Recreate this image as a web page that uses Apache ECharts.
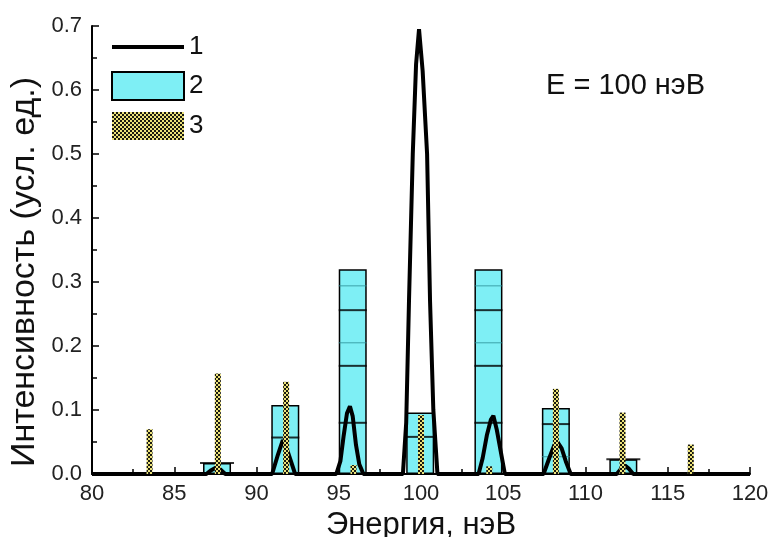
<!DOCTYPE html>
<html>
<head>
<meta charset="utf-8">
<script src="https://cdn.jsdelivr.net/npm/echarts@6/dist/echarts.min.js"></script>
<style>html,body{margin:0;padding:0;background:#fff;}#c{width:772px;height:537px;}</style>
</head>
<body>
<div id="c"></div>
<script>
// ---- data ----
var xTicks = [80, 85, 90, 95, 100, 105, 110, 115, 120];
var yTicks = [0, 0.1, 0.2, 0.3, 0.4, 0.5, 0.6, 0.7];

// series 1: line
var lineX = [80, 86.95, 87.25, 87.6, 87.85, 88.1,
  90.95, 91.3, 91.6, 91.9, 92.35,
  94.85, 95.1, 95.3, 95.5, 95.68, 95.85, 96.05, 96.25, 96.5,
  98.9, 99.1, 99.27, 99.5, 99.7, 99.88, 100.1, 100.37, 100.55, 100.75, 101.0,
  103.5, 103.75, 104.0, 104.25, 104.4, 104.6, 104.85, 105.1,
  107.45, 107.8, 108.1, 108.3, 108.55, 108.8, 109.1,
  111.9, 112.15, 112.4, 112.65, 112.9, 120];
var lineY = [0, 0, 0.006, 0.011, 0.006, 0,
  0, 0.03, 0.053, 0.035, 0,
  0, 0.02, 0.06, 0.095, 0.106, 0.09, 0.045, 0.015, 0,
  0, 0.08, 0.27, 0.5, 0.64, 0.695, 0.63, 0.5, 0.27, 0.1, 0,
  0, 0.025, 0.06, 0.085, 0.091, 0.07, 0.035, 0,
  0, 0.025, 0.045, 0.05, 0.04, 0.02, 0,
  0, 0.008, 0.013, 0.008, 0, 0];

// series 2: cyan bars
var cyanX = [87.6, 91.75, 95.85, 99.95, 104.1, 108.2, 112.3];
var cyanY = [0.017, 0.108, 0.32, 0.096, 0.32, 0.103, 0.023];
// inner level lines of the cyan bars
var darkLevels = [[91.75, 0.057], [95.85, 0.08], [95.85, 0.169], [95.85, 0.256],
  [99.95, 0.058], [104.1, 0.08], [104.1, 0.169], [104.1, 0.256], [108.2, 0.078]];
var lightLevels = [[95.85, 0.205], [95.85, 0.294], [104.1, 0.205], [104.1, 0.294], [108.2, 0.027]];
var capLevels = [[87.6, 0.017], [112.3, 0.023]];

// series 3: dotted bars
var dotX = [83.5, 87.65, 91.8, 95.9, 100.0, 104.15, 108.2, 112.25, 116.4];
var dotY = [0.070, 0.157, 0.144, 0.014, 0.092, 0.012, 0.133, 0.096, 0.046];

// ---- pattern ----
var pc = document.createElement('canvas');
pc.width = 4; pc.height = 4;
var g = pc.getContext('2d');
g.fillStyle = '#ece27a'; g.fillRect(0, 0, 4, 4);
g.fillStyle = '#1a1a10'; g.fillRect(0, 0, 2, 2); g.fillRect(2, 2, 2, 2);
var patt = {image: pc, repeat: 'repeat'};

function pairs(xs, ys) { return xs.map(function (x, i) { return [x, ys[i]]; }); }

var FONT = 'Liberation Sans, Arial, sans-serif';
var chart = echarts.init(document.getElementById('c'), null, {renderer: 'canvas'});
chart.setOption({
  animation: false,
  backgroundColor: '#fff',
  grid: {left: 92, right: 22, top: 26, bottom: 63, containLabel: false, outerBoundsMode: 'none'},
  legend: {
    orient: 'vertical', left: 105, top: 29, itemWidth: 72, itemHeight: 28, itemGap: 11,
    textStyle: {fontSize: 26, color: '#111', fontFamily: FONT},
    data: [
      {name: '1', itemStyle: {opacity: 0}, lineStyle: {width: 4, color: '#000'}},
      {name: '2', icon: 'rect'},
      {name: '3', icon: 'rect'}
    ]
  },
  xAxis: [{
    type: 'value', min: 80, max: 120, interval: 5,
    name: 'Энергия, нэВ', nameLocation: 'middle', nameGap: 27,
    nameTextStyle: {fontSize: 31, color: '#111', fontFamily: FONT},
    axisLine: {lineStyle: {color: '#000', width: 2}},
    axisTick: {inside: true, length: 7, lineStyle: {color: '#000', width: 1.5}},
    minorTick: {show: true, splitNumber: 2, length: 5, lineStyle: {color: '#000', width: 1.5}},
    axisLabel: {fontSize: 22, color: '#222', fontFamily: FONT, margin: 9,
      formatter: function (v) { return String(v); }},
    splitLine: {show: false}
  }, {
    type: 'value', min: 80, max: 120, show: false
  }],
  yAxis: {
    type: 'value', min: 0, max: 0.7, interval: 0.1,
    axisLine: {show: true, lineStyle: {color: '#000', width: 2}},
    axisTick: {show: true, inside: true, length: 7, lineStyle: {color: '#000', width: 1.5}},
    minorTick: {show: true, splitNumber: 2, length: 5, lineStyle: {color: '#000', width: 1.5}},
    axisLabel: {fontSize: 22, color: '#222', fontFamily: FONT, margin: 10,
      formatter: function (v) { return v.toFixed(1); }},
    splitLine: {show: false}
  },
  graphic: [
    {type: 'text', x: 25, y: 272, rotation: Math.PI / 2,
      style: {text: 'Интенсивность (усл. ед.)', fontSize: 34, fill: '#111', fontFamily: FONT,
        align: 'center', verticalAlign: 'middle'}},
    {type: 'text', x: 546, y: 86,
      style: {text: 'E = 100 нэВ', fontSize: 29, fill: '#111', fontFamily: FONT,
        align: 'left', verticalAlign: 'middle'}}
  ],
  series: [
    {
      name: '2', type: 'bar', xAxisIndex: 0, barWidth: 28, z: 2,
      itemStyle: {color: '#7eeff5', borderColor: '#000', borderWidth: 1.5},
      data: pairs(cyanX, cyanY)
    },
    {
      name: '2', type: 'scatter', xAxisIndex: 0, symbol: 'rect', symbolSize: [28, 2], z: 3,
      itemStyle: {color: '#000'}, silent: true, data: darkLevels
    },
    {
      name: '2', type: 'scatter', xAxisIndex: 0, symbol: 'rect', symbolSize: [28, 1], z: 3,
      itemStyle: {color: '#2b8f96'}, silent: true, data: lightLevels
    },
    {
      name: '2', type: 'scatter', xAxisIndex: 0, symbol: 'rect', symbolSize: [34, 2], z: 3,
      itemStyle: {color: '#000'}, silent: true, data: capLevels
    },
    {
      name: '1', type: 'line', xAxisIndex: 0, z: 4, symbol: 'none', showSymbol: false,
      lineStyle: {color: '#000', width: 4}, itemStyle: {color: '#000'},
      data: pairs(lineX, lineY)
    },
    {
      name: '3', type: 'bar', xAxisIndex: 1, barWidth: 6, z: 5,
      itemStyle: {color: patt},
      data: pairs(dotX, dotY)
    }
  ]
});
</script>
</body>
</html>
